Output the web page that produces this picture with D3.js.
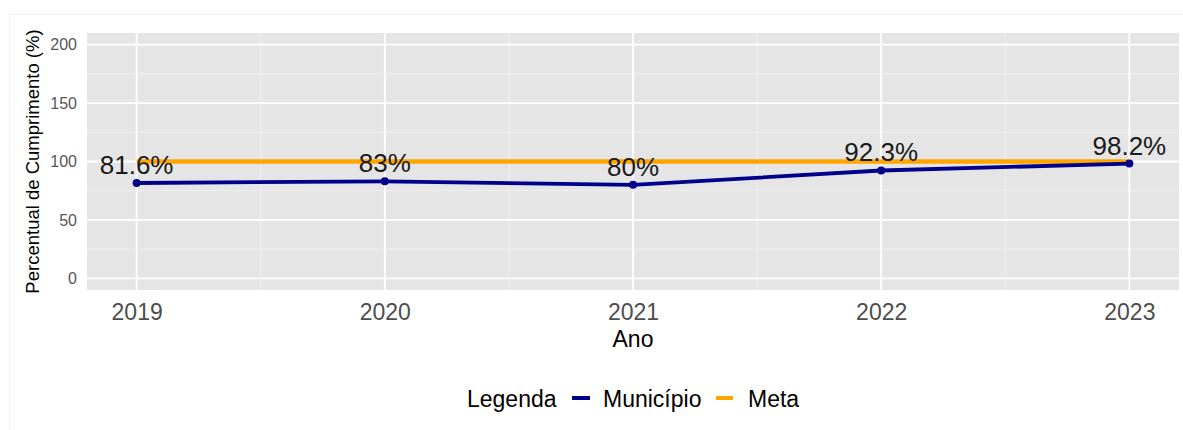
<!DOCTYPE html>
<html>
<head>
<meta charset="utf-8">
<script src="https://cdn.jsdelivr.net/npm/d3@7"></script>
<style>
  body { margin: 0; background: #fff; }
  text { font-family: "Liberation Sans", Arial, sans-serif; }
</style>
</head>
<body>
<svg id="chart_svg" width="1183" height="430"></svg>
<script>
// data
var anos = [2019, 2020, 2021, 2022, 2023];
var municipio = [81.6, 83, 80, 92.3, 98.2];
var meta = [100, 100, 100, 100, 100];
var rotulos = ["81.6%", "83%", "80%", "92.3%", "98.2%"];
var yTicks = [0, 50, 100, 150, 200];
var yMinor = [25, 75, 125, 175];
var xMinor = [2019.5, 2020.5, 2021.5, 2022.5];

var panel = {left: 87, right: 1179, top: 33, bottom: 290};

var svg = d3.select('#chart_svg');

// faint outer frame
svg.append("rect")
    .attr("x", 9.5).attr("y", 14.5)
    .attr("width", 1200).attr("height", 430)
    .attr("fill", "none")
    .attr("stroke", "#f2f2f2");

var x = d3.scaleLinear().domain([2018.8, 2023.2]).range([panel.left, panel.right]);
var y = d3.scaleLinear().domain([-10, 210]).range([panel.bottom, panel.top]);

// panel background
svg.append("rect")
    .attr("x", panel.left).attr("y", panel.top)
    .attr("width", panel.right - panel.left)
    .attr("height", panel.bottom - panel.top)
    .attr("fill", "#e5e5e5");

var grid = svg.append("g").attr("id", "grid");
grid.selectAll(".ymin").data(yMinor).enter().append("line")
    .attr("x1", panel.left).attr("x2", panel.right)
    .attr("y1", function(d) { return y(d); }).attr("y2", function(d) { return y(d); })
    .attr("stroke", "#f2f2f2").attr("stroke-width", 0.9);
grid.selectAll(".xmin").data(xMinor).enter().append("line")
    .attr("y1", panel.top).attr("y2", panel.bottom)
    .attr("x1", function(d) { return x(d); }).attr("x2", function(d) { return x(d); })
    .attr("stroke", "#f2f2f2").attr("stroke-width", 0.9);
grid.selectAll(".ymaj").data(yTicks).enter().append("line")
    .attr("x1", panel.left).attr("x2", panel.right)
    .attr("y1", function(d) { return y(d); }).attr("y2", function(d) { return y(d); })
    .attr("stroke", "#ffffff").attr("stroke-width", 1.8);
grid.selectAll(".xmaj").data(anos).enter().append("line")
    .attr("y1", panel.top).attr("y2", panel.bottom)
    .attr("x1", function(d) { return x(d); }).attr("x2", function(d) { return x(d); })
    .attr("stroke", "#ffffff").attr("stroke-width", 1.8);

// axes
var yAxis = svg.append("g")
    .attr("transform", "translate(" + (panel.left - 10) + ",0)")
    .call(d3.axisLeft(y).tickValues(yTicks).tickSize(0).tickPadding(0));
yAxis.select(".domain").remove();
yAxis.selectAll("text")
    .attr("font-size", "16px")
    .attr("fill", "#555555")
    .attr("font-family", "Liberation Sans, Arial, sans-serif");

var xAxis = svg.append("g")
    .attr("transform", "translate(0," + panel.bottom + ")")
    .call(d3.axisBottom(x).tickValues(anos).tickFormat(d3.format("d")).tickSize(0).tickPadding(0));
xAxis.select(".domain").remove();
xAxis.selectAll("text")
    .attr("dy", null)
    .attr("y", 30)
    .attr("font-size", "23px")
    .attr("fill", "#4d4d4d")
    .attr("font-family", "Liberation Sans, Arial, sans-serif");

// axis titles
svg.append("text")
    .text("Ano")
    .attr("x", (panel.left + panel.right) / 2)
    .attr("y", 347)
    .attr("text-anchor", "middle")
    .attr("font-size", "23px")
    .attr("fill", "#000");

svg.append("text")
    .text("Percentual de Cumprimento (%)")
    .attr("transform", "translate(39," + ((panel.top + panel.bottom) / 2) + ") rotate(-90)")
    .attr("text-anchor", "middle")
    .attr("font-size", "18.5px")
    .attr("fill", "#000");

// lines
var line = d3.line()
    .x(function(d, i) { return x(anos[i]); })
    .y(function(d) { return y(d); });

svg.append("path")
    .datum(meta)
    .attr("d", line)
    .attr("fill", "none")
    .attr("stroke", "#ffa500")
    .attr("stroke-width", 4.5);

svg.append("path")
    .datum(municipio)
    .attr("d", line)
    .attr("fill", "none")
    .attr("stroke", "#00008b")
    .attr("stroke-width", 3.8);

svg.selectAll(".pt").data(municipio).enter().append("circle")
    .attr("cx", function(d, i) { return x(anos[i]); })
    .attr("cy", function(d) { return y(d); })
    .attr("r", 4)
    .attr("fill", "#00008b");

svg.selectAll(".lbl").data(municipio).enter().append("text")
    .text(function(d, i) { return rotulos[i]; })
    .attr("x", function(d, i) { return x(anos[i]); })
    .attr("y", function(d) { return y(d) - 9; })
    .attr("text-anchor", "middle")
    .attr("font-size", "26px")
    .attr("fill", "#1a1a1a");

// legend
var legend = svg.append("g").attr("id", "legend-group");
legend.append("text").text("Legenda")
    .attr("x", 467).attr("y", 407)
    .attr("font-size", "23px").attr("fill", "#000");
legend.append("line")
    .attr("x1", 572).attr("x2", 590).attr("y1", 398).attr("y2", 398)
    .attr("stroke", "#00008b").attr("stroke-width", 4);
legend.append("text").text("Município")
    .attr("x", 603).attr("y", 407)
    .attr("font-size", "23px").attr("fill", "#000");
legend.append("line")
    .attr("x1", 716).attr("x2", 733).attr("y1", 398).attr("y2", 398)
    .attr("stroke", "#ffa500").attr("stroke-width", 4);
legend.append("text").text("Meta")
    .attr("x", 748).attr("y", 407)
    .attr("font-size", "23px").attr("fill", "#000");
</script>
</body>
</html>
